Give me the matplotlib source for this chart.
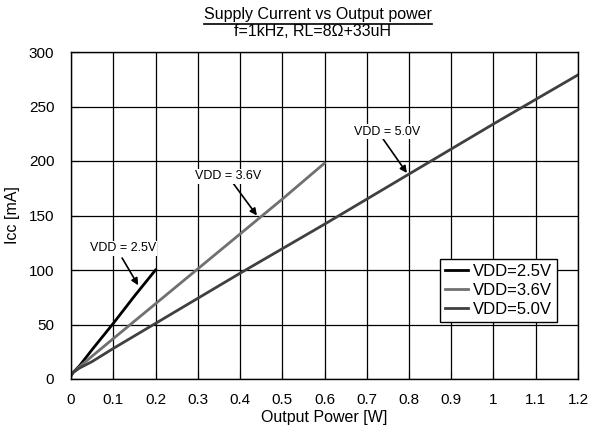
import numpy as np
import matplotlib
matplotlib.use("Agg")
import matplotlib.pyplot as plt

plt.rcParams['font.family'] = ['Liberation Sans', 'DejaVu Sans']

# output power [W] and supply current [mA]
p_25 = [0.0, 0.005, 0.02, 0.05, 0.1, 0.15, 0.2]
i_25 = [3, 6, 12, 27, 51, 76, 100]
p_36 = [0.0, 0.005, 0.02, 0.05, 0.1, 0.2, 0.3, 0.4, 0.5, 0.6]
i_36 = [3, 6, 11, 21, 37, 69, 101, 133, 165, 198]
p_50 = [0.0, 0.005, 0.02, 0.05, 0.1, 0.2, 0.4, 0.6, 0.8, 1.0, 1.2]
i_50 = [3, 6, 10, 16, 28, 51, 97, 142, 188, 234, 279]

fig = plt.figure(figsize=(5.91, 4.37), dpi=100)
ax = fig.add_axes([71/591, 58/437, 507/591, 327/437])

ax.plot(p_25, i_25, color='#000000', lw=2, label='VDD=2.5V')
ax.plot(p_36, i_36, color='#707070', lw=2, label='VDD=3.6V')
ax.plot(p_50, i_50, color='#404040', lw=2, label='VDD=5.0V')

ax.set_xlim(0, 1.2)
ax.set_ylim(0, 300)
ax.set_xticks(np.arange(0, 1.21, 0.1))
ax.set_xticklabels(['0', '0.1', '0.2', '0.3', '0.4', '0.5', '0.6', '0.7', '0.8', '0.9', '1', '1.1', '1.2'])
ax.set_yticks(np.arange(0, 301, 50))
ax.tick_params(axis='both', direction='in', labelsize=11, length=6)
ax.tick_params(axis='x', pad=10)
ax.tick_params(axis='y', pad=12)
ax.grid(True, color='black', lw=0.9)
for s in ax.spines.values():
    s.set_linewidth(1.0)

ax.set_xlabel('Output Power [W]', fontsize=11.5, labelpad=2)
ax.set_ylabel('Icc [mA]', fontsize=11.5, labelpad=6)

arrow = dict(arrowstyle='-|>', color='black', lw=1.2, mutation_scale=10, shrinkA=0, shrinkB=0)
box = dict(facecolor='white', edgecolor='none', pad=1)
ax.annotate('', xy=(0.159, 86), xytext=(0.121, 111), arrowprops=arrow)
ax.text(0.123, 120, 'VDD = 2.5V', ha='center', va='center', fontsize=9, bbox=box)
ax.annotate('', xy=(0.44, 150), xytext=(0.383, 180), arrowprops=arrow)
ax.text(0.372, 186, 'VDD = 3.6V', ha='center', va='center', fontsize=9, bbox=box)
ax.annotate('', xy=(0.795, 189), xytext=(0.739, 220), arrowprops=arrow)
ax.text(0.748, 227, 'VDD = 5.0V', ha='center', va='center', fontsize=9, bbox=box)

leg = ax.legend(loc='lower right', bbox_to_anchor=(0.9586, 0.174), fontsize=12,
                frameon=True, fancybox=False, edgecolor='black', framealpha=1,
                handlelength=1.4, borderpad=0.3, labelspacing=0.25, handletextpad=0.3,
                borderaxespad=0)
leg.get_frame().set_linewidth(1.0)

t1 = fig.text(318/591, 1 - 14/437, 'Supply Current vs Output power', ha='center', va='center', fontsize=11.5)
fig.text(312/591, 1 - 32/437, 'f=1kHz, RL=8Ω+33uH', ha='center', va='center', fontsize=11.5)

# underline the first title line
fig.canvas.draw()
bb = t1.get_window_extent().transformed(fig.transFigure.inverted())
y_ul = 1 - 24/437
fig.add_artist(plt.Line2D([bb.x0, bb.x1], [y_ul, y_ul], color='black', lw=1.2,
                          transform=fig.transFigure))

fig.savefig('out.png', dpi=100)
